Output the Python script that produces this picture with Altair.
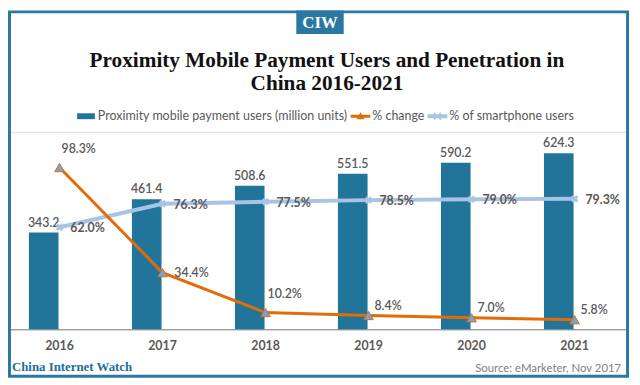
import altair as alt
import pandas as pd

years = ["2016", "2017", "2018", "2019", "2020", "2021"]
users = [343.2, 461.4, 508.6, 551.5, 590.2, 624.3]
pct_change = [98.3, 34.4, 10.2, 8.4, 7.0, 5.8]
smartphone = [62.0, 76.3, 77.5, 78.5, 79.0, 79.3]
series_names = [
    "Proximity mobile payment users (million units)",
    "% change",
    "% of smartphone users",
]

BAR = "#21759b"
ORANGE = "#e36c09"
LB = "#a9c4e2"
TRI = "#6ea6dc"
FRAME = "#2a78a2"
GRAY = "#595959"
SANS = "Lato"
SERIF = "Liberation Serif"

df = pd.DataFrame({"year": years, "users": users, "change": pct_change, "smart": smartphone})
df["users_label"] = [f"{v:.1f}" for v in users]
df["change_label"] = [f"{v:.1f}%" for v in pct_change]
df["smart_label"] = [f"{v:.1f}%" for v in smartphone]
leg_df = pd.DataFrame({"series": series_names})
one = pd.DataFrame({"k": [0]})

X = alt.X(
    "year:N", sort=years,
    scale=alt.Scale(paddingInner=0, paddingOuter=0),
    axis=alt.Axis(title=None, domainColor="#808080", domainWidth=1, ticks=False, grid=False,
                  labelAngle=0, labelFont=SANS, labelFontSize=12.5, labelFontWeight="bold",
                  labelColor=GRAY, labelPadding=10),
)
base = alt.Chart(df).encode(x=X)

Yu = alt.Y("users:Q", scale=alt.Scale(domain=[0, 700]), axis=None)
bars = base.mark_bar(size=30, xOffset=-16, color=BAR).encode(y=Yu)
bar_text = base.mark_text(xOffset=-16, dy=-10, font=SANS, fontSize=12.5, fontWeight=600,
                          color=GRAY).encode(y=Yu, text="users_label:N")
bar_group = alt.layer(bars, bar_text)

Yc = alt.Y("change:Q", scale=alt.Scale(domain=[0, 120]), axis=None)
Ys = alt.Y("smart:Q", scale=alt.Scale(domain=[0, 120]), axis=None)

smart_line = base.mark_line(color=LB, strokeWidth=4).encode(y=Ys)
smart_pts = base.mark_point(shape="cross", angle=45, filled=True, color=LB, size=60,
                            opacity=1).encode(y=Ys)
smart_text = base.mark_text(align="left", dx=11, dy=1, font=SANS, fontSize=12.5,
                            fontWeight="bold", color=GRAY).encode(y=Ys, text="smart_label:N")

change_line = base.mark_line(color=ORANGE, strokeWidth=3).encode(y=Yc)
change_pts = base.mark_point(shape="triangle-up", filled=True, fill=TRI, stroke=ORANGE,
                             strokeWidth=1, size=95, opacity=1).encode(y=Yc)
ct_style = dict(align="left", font=SANS, fontSize=12.5, fontWeight=600, color=GRAY)
change_text_a = base.transform_filter(
    alt.FieldOneOfPredicate(field="year", oneOf=["2016", "2018"])
).mark_text(dx=2, dy=-19, **ct_style).encode(y=Yc, text="change_label:N")
change_text_b = base.transform_filter(
    alt.FieldOneOfPredicate(field="year", oneOf=["2017"])
).mark_text(dx=12, dy=0, **ct_style).encode(y=Yc, text="change_label:N")
change_text_c = base.transform_filter(
    alt.FieldOneOfPredicate(field="year", oneOf=["2019", "2020", "2021"])
).mark_text(dx=6, dy=-10, **ct_style).encode(y=Yc, text="change_label:N")

bar_path = "M-0.9,-0.3H0.9V0.3H-0.9Z"
chg_path = "M-1,-0.15H1V0.15H-1Z M-0.4,0.3L0,-0.4L0.4,0.3Z"
sm_path = ("M-1,-0.2H1V0.2H-1Z M-0.4,-0.3L-0.3,-0.4L0.4,0.3L0.3,0.4Z "
           "M0.3,-0.4L0.4,-0.3L-0.3,0.4L-0.4,0.3Z")
leg = alt.Legend(title=None, orient="none", legendX=69, legendY=-26, direction="horizontal",
                 symbolSize=400, symbolOpacity=1, symbolStrokeWidth=0, labelFont=SANS,
                 labelFontSize=12.6, labelColor=GRAY, labelOffset=2, columnPadding=3,
                 labelLimit=500, padding=0)
legend_layer = alt.Chart(leg_df).mark_point(opacity=0, filled=True).encode(
    color=alt.Color("series:N", scale=alt.Scale(domain=series_names, range=[BAR, ORANGE, LB]),
                    legend=leg),
    shape=alt.Shape("series:N", scale=alt.Scale(domain=series_names,
                                                 range=[bar_path, chg_path, sm_path]),
                    legend=leg),
)

pct_group = alt.layer(smart_line, change_line, smart_pts, change_pts, smart_text,
                      change_text_a, change_text_b, change_text_c)

deco = alt.Chart(one)
frame = deco.mark_rect(filled=False, stroke=FRAME, strokeWidth=3).encode(
    x=alt.value(1.5), x2=alt.value(627.5), y=alt.value(-121.5), y2=alt.value(247.5))
logo_box = deco.mark_rect(color=FRAME).encode(
    x=alt.value(292), x2=alt.value(340), y=alt.value(-123), y2=alt.value(-99))
logo_text = deco.mark_text(text="CIW", font=SERIF, fontSize=17, fontWeight="bold",
                           color="white", baseline="middle").encode(
    x=alt.value(316), y=alt.value(-110))
title1 = deco.mark_text(text="Proximity Mobile Payment Users and Penetration in", font=SERIF,
                        fontSize=21.5, fontWeight="bold", color="#111111",
                        baseline="middle").encode(x=alt.value(323), y=alt.value(-72))
title2 = deco.mark_text(text="China 2016-2021", font=SERIF, fontSize=21.5, fontWeight="bold",
                        color="#111111", baseline="middle").encode(
    x=alt.value(323), y=alt.value(-48))
ciw = deco.mark_text(text="China Internet Watch", font=SERIF, fontSize=13, fontWeight="bold",
                     color="#1f6e98", align="left", baseline="middle").encode(
    x=alt.value(4), y=alt.value(238))
source = deco.mark_text(text="Source: eMarketer, Nov 2017", font=SANS, fontSize=11.5,
                        color="#808080", align="right", baseline="middle").encode(
    x=alt.value(621), y=alt.value(240))

data_layers = alt.layer(bar_group, pct_group, legend_layer).resolve_scale(y="independent")

chart = alt.layer(data_layers, frame, logo_box, logo_text, title1, title2, ciw, source).properties(
    width=626, height=200,
    autosize=alt.AutoSizeParams(type="none"),
    padding={"left": 0, "top": 123, "right": 6, "bottom": 54},
).configure_view(stroke=None).configure(background="white")

chart.save("out.html", embed_options={"renderer": "svg", "actions": False})
